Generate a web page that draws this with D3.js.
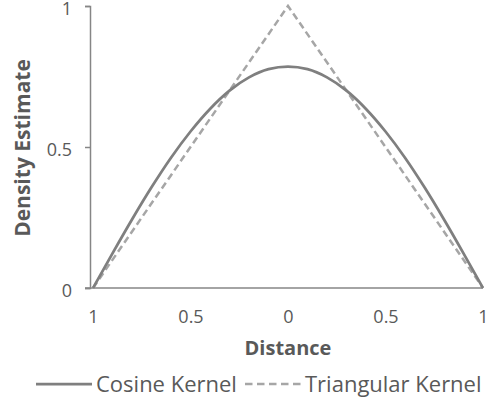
<!DOCTYPE html>
<html>
<head>
<meta charset="utf-8">
<script src="https://cdn.jsdelivr.net/npm/d3@7"></script>
<style>
  body { margin: 0; background: #fff; }
  text { font-family: "Open Sans", sans-serif; fill: #595959; }
</style>
</head>
<body>
<div class="chartViz"></div>
<script>
// values
var distance = [-1, -0.9, -0.8, -0.7, -0.6, -0.5, -0.4, -0.3, -0.2, -0.1, 0,
                0.1, 0.2, 0.3, 0.4, 0.5, 0.6, 0.7, 0.8, 0.9, 1]
var cosineKernel = [0, 0.123, 0.243, 0.357, 0.462, 0.555, 0.635, 0.700, 0.747, 0.776, 0.785,
                    0.776, 0.747, 0.700, 0.635, 0.555, 0.462, 0.357, 0.243, 0.123, 0]
var triDistance = [-1, 0, 1]
var triangularKernel = [0, 1, 0]
var xTicks = [-1, -0.5, 0, 0.5, 1]
var xTickLabels = ["1", "0.5", "0", "0.5", "1"]
var yTicks = [0, 0.5, 1]

var width = 486, height = 407

var svg = d3.select(".chartViz")
    .append("svg")
    .attr("width", width)
    .attr("height", height)

var x = d3.scaleLinear().domain([-1, 1]).range([93, 483])
var y = d3.scaleLinear().domain([0, 1]).range([288, 6])

// y axis
var yAxis = svg.append("g")
    .attr("transform", "translate(90,0)")
    .call(d3.axisLeft(y).tickValues(yTicks).tickFormat(d3.format("")).tickSize(5).tickPadding(13))
yAxis.select(".domain").attr("stroke", "#868686").attr("stroke-width", 1.5)
yAxis.selectAll(".tick line").attr("stroke", "#868686").attr("stroke-width", 1.5)
yAxis.selectAll(".tick text").style("font-size", "18px").attr("fill", "#595959").attr("dy", "0.45em")

// x axis
var xAxis = svg.append("g")
    .attr("transform", "translate(0,288)")
    .call(d3.axisBottom(x).tickValues(xTicks).tickFormat((d, i) => xTickLabels[i]).tickSize(0).tickPadding(24).tickSizeOuter(0))
xAxis.select(".domain").attr("d", "M85,0H483").attr("stroke", "#868686").attr("stroke-width", 1.5)
xAxis.selectAll(".tick text").style("font-size", "18px").attr("fill", "#595959").attr("dy", "0.6em")

// lines
var cosLine = d3.line()
    .x((d, i) => x(distance[i]))
    .y(d => y(d))
    .curve(d3.curveMonotoneX)
var triLine = d3.line()
    .x((d, i) => x(triDistance[i]))
    .y(d => y(d))

svg.append("path")
    .datum(triangularKernel)
    .attr("d", triLine)
    .attr("fill", "none")
    .attr("stroke", "#a6a6a6")
    .attr("stroke-width", 2.5)
    .attr("stroke-dasharray", "7,4")

svg.append("path")
    .datum(cosineKernel)
    .attr("d", cosLine)
    .attr("fill", "none")
    .attr("stroke", "#7f7f7f")
    .attr("stroke-width", 2.75)

// axis titles
svg.append("text")
    .attr("x", 288).attr("y", 355)
    .attr("text-anchor", "middle")
    .style("font-size", "20px").style("font-weight", "bold")
    .text("Distance")

svg.append("text")
    .attr("transform", "translate(30,148) rotate(-90)")
    .attr("text-anchor", "middle")
    .style("font-size", "21px").style("font-weight", "bold")
    .text("Density Estimate")

// legend
var legend = svg.append("g")
legend.append("line")
    .attr("x1", 36).attr("x2", 92).attr("y1", 384).attr("y2", 384)
    .attr("stroke", "#7f7f7f").attr("stroke-width", 2.75)
legend.append("text")
    .attr("x", 96).attr("y", 392)
    .style("font-size", "22px")
    .text("Cosine Kernel")
legend.append("line")
    .attr("x1", 245).attr("x2", 301).attr("y1", 384).attr("y2", 384)
    .attr("stroke", "#a6a6a6").attr("stroke-width", 2.5)
    .attr("stroke-dasharray", "7.5,4.5")
legend.append("text")
    .attr("x", 305).attr("y", 392)
    .style("font-size", "22px")
    .text("Triangular Kernel")
</script>
</body>
</html>
